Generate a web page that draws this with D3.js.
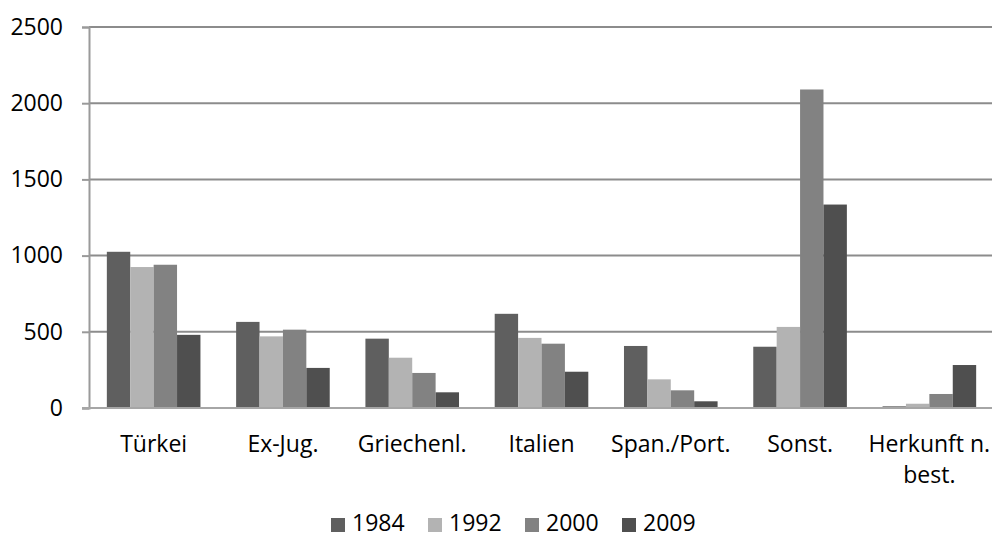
<html>
<head>
<meta charset="utf-8">
<title>Herkunft</title>
<script src="https://cdnjs.cloudflare.com/ajax/libs/d3/7.8.5/d3.min.js"></script>
<style>
  body { margin: 0; background: #fff; }
  text { font-family: "Open Sans", "Noto Sans", sans-serif; fill: #000; }
</style>
</head>
<body>
<svg id="chart" width="992" height="541"></svg>
<script>
var categories = ['Türkei', 'Ex-Jug.', 'Griechenl.', 'Italien', 'Span./Port.', 'Sonst.', 'Herkunft n. best.'];
var years = ['1984', '1992', '2000', '2009'];
var v1984 = [1025, 565, 455, 618, 407, 402, 11];
var v1992 = [925, 470, 330, 460, 188, 532, 28];
var v2000 = [940, 514, 230, 422, 116, 2090, 92];
var v2009 = [480, 263, 103, 238, 44, 1335, 282];
var yTicks = [0, 500, 1000, 1500, 2000, 2500];
var colors = ['#5f5f5f', '#b3b3b3', '#828282', '#4f4f4f'];

var series = [v1984, v1992, v2000, v2009];

var svg = d3.select('#chart');

var x = d3.scaleBand()
    .domain(categories)
    .range([89, 994])
    .paddingInner(0.276)
    .paddingOuter(0.138);

var xs = d3.scaleBand()
    .domain(years)
    .range([0, x.bandwidth()]);

var y = d3.scaleLinear()
    .domain([0, 2500])
    .range([408, 27]);

// gridlines
svg.append('g')
    .selectAll('line')
    .data(yTicks.slice(1))
    .enter()
    .append('line')
    .attr('x1', 89).attr('x2', 992)
    .attr('y1', function (d) { return y(d); })
    .attr('y2', function (d) { return y(d); })
    .attr('stroke', '#8c8c8c')
    .attr('stroke-width', 2);

// bars
var groups = svg.append('g')
    .selectAll('g')
    .data(categories)
    .enter()
    .append('g')
    .attr('transform', function (d) { return 'translate(' + x(d) + ',0)'; });

groups.selectAll('rect')
    .data(function (d, i) { return series.map(function (s, k) { return { year: years[k], value: s[i], k: k }; }); })
    .enter()
    .append('rect')
    .attr('x', function (d) { return xs(d.year); })
    .attr('width', xs.bandwidth())
    .attr('y', function (d) { return y(d.value); })
    .attr('height', function (d) { return y(0) - y(d.value); })
    .attr('fill', function (d) { return colors[d.k]; });

// y axis
var yAxis = d3.axisLeft(y).tickValues(yTicks).tickSize(7).tickPadding(19).tickFormat(d3.format('d'));
var ya = svg.append('g').attr('transform', 'translate(89,0)').call(yAxis);
ya.select('.domain').attr('stroke', '#9a9a9a').attr('stroke-width', 2);
ya.selectAll('.tick line').attr('stroke', '#9a9a9a').attr('stroke-width', 2);
ya.selectAll('.tick text').style('font-size', '23px').attr('fill', '#000');

// x axis line
svg.append('line')
    .attr('x1', 82).attr('x2', 992)
    .attr('y1', y(0)).attr('y2', y(0))
    .attr('stroke', '#a6a6a6')
    .attr('stroke-width', 2);

// category labels (with wrap)
var labelLines = {
    'Herkunft n. best.': ['Herkunft n.', 'best.']
};
svg.append('g')
    .selectAll('text')
    .data(categories)
    .enter()
    .append('text')
    .attr('text-anchor', 'middle')
    .style('font-size', '23px')
    .each(function (d) {
        var lines = labelLines[d] || [d];
        var t = d3.select(this);
        lines.forEach(function (ln, i) {
            t.append('tspan')
                .attr('x', x(d) + x.bandwidth() / 2)
                .attr('y', 452 + i * 31)
                .text(ln);
        });
    });

// legend
var legend = svg.append('g')
    .selectAll('g')
    .data(years)
    .enter()
    .append('g')
    .attr('transform', function (d, i) { return 'translate(' + (331 + i * 97) + ',0)'; });

legend.append('rect')
    .attr('x', 0).attr('y', 518)
    .attr('width', 14).attr('height', 14)
    .attr('fill', function (d, i) { return colors[i]; });

legend.append('text')
    .attr('x', 21).attr('y', 531)
    .style('font-size', '23px')
    .text(function (d) { return d; });
</script>
</body>
</html>
